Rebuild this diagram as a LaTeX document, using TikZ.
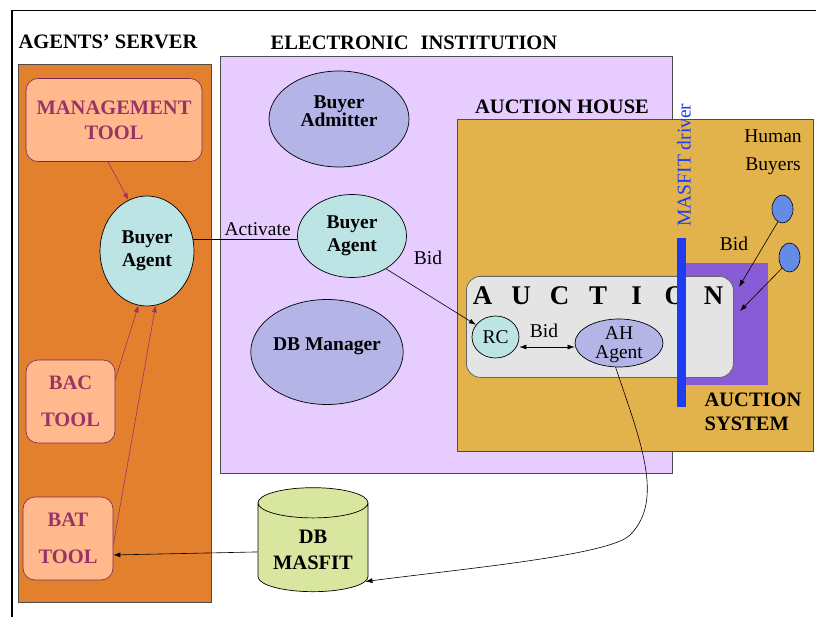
\documentclass[tikz,border=0pt]{standalone}
\usepackage{fontspec}
\setmainfont{Liberation Serif}
\usetikzlibrary{shapes.geometric,arrows.meta}
\definecolor{serverorange}{RGB}{226,128,46}
\definecolor{toolfill}{RGB}{255,185,140}
\definecolor{tooltext}{RGB}{153,51,102}
\definecolor{institution}{RGB}{230,204,255}
\definecolor{scenepurple}{RGB}{180,180,230}
\definecolor{agentcyan}{RGB}{188,228,228}
\definecolor{housegold}{RGB}{226,178,76}
\definecolor{systempurple}{RGB}{136,92,214}
\definecolor{auctiongray}{RGB}{228,228,228}
\definecolor{driverblue}{RGB}{30,60,240}
\definecolor{humanblue}{RGB}{100,140,230}
\definecolor{dbgreen}{RGB}{216,230,160}
\begin{document}
\begin{tikzpicture}[x=1pt, y=-1pt,
    area/.style={draw=black!70, line width=1.2pt, anchor=north west, inner sep=0pt},
    tool/.style={draw=tooltext!80!black, fill=toolfill, rounded corners=12pt, line width=0.6pt, text=tooltext, align=center, font=\bfseries\fontsize{20.5}{25}\selectfont},
    agent/.style={ellipse, draw, fill=agentcyan, line width=0.7pt, inner sep=0pt, align=center, font=\bfseries\fontsize{19.5}{23}\selectfont},
    scene/.style={ellipse, draw, fill=scenepurple, line width=0.7pt, inner sep=0pt, align=center, font=\bfseries\fontsize{19.5}{18}\selectfont},
    title/.style={font=\bfseries\fontsize{20.5}{24}\selectfont, inner sep=0pt},
    plain/.style={font=\fontsize{19.5}{22}\selectfont, inner sep=0pt, align=center},
    link/.style={-{Latex[length=7pt,width=5pt]}, line width=0.6pt},
    toollink/.style={link, draw=tooltext}]
\useasboundingbox (0,0) rectangle (816,617);
\draw[line width=1.6pt] (12,617) -- (12,10.5) -- (816,10.5); %% frame

%% agents' server
\node[title] (serverlabel) at (108,42) {AGENTS' SERVER};
\node[area, fill=serverorange, minimum width=193pt, minimum height=538pt] (server) at (18,64) {};
\node[tool, minimum width=176pt, minimum height=83pt] (mgmt) at (114,120) {MANAGEMENT\\TOOL};
\node[agent, minimum width=94pt, minimum height=110pt] (buyerL) at (147,251) {Buyer\\Agent};
\node[tool, minimum width=89pt, minimum height=83pt] (bac) at (70.5,401.5) {BAC\\[12pt]TOOL};
\node[tool, minimum width=90pt, minimum height=83pt] (bat) at (68,538.5) {BAT\\[12pt]TOOL};
\draw[toollink] ([xshift=-6pt]mgmt.south) -- (buyerL.110);
\draw[toollink] (bac.26) -- (buyerL.261);
\draw[toollink] (bat.-8) -- (buyerL.279);

%% electronic institution
\node[title] (eilabel) at (414,43) {ELECTRONIC\hspace{12pt}INSTITUTION};
\node[area, fill=institution, minimum width=452pt, minimum height=417pt] (ei) at (220,56) {};
\node[scene, minimum width=140pt, minimum height=96pt, text depth=16pt] (admitter) at (339,119) {Buyer\\Admitter};
\node[agent, minimum width=109pt, minimum height=83pt] (buyerM) at (352,236) {Buyer\\Agent};
\node[scene, minimum width=143pt, minimum height=105pt, text depth=16pt] (dbman) at (327,352) {DB Manager};
\draw[line width=0.6pt] (buyerL.14) -- node[plain, pos=0.62, above=3pt] (activate) {Activate} (buyerL.14 -| buyerM.west);

%% auction house
\node[title] (ahlabel) at (562,107) {AUCTION HOUSE};
\node[area, fill=housegold, minimum width=356pt, minimum height=332pt] (house) at (457,119) {};
\node[area, draw=none, fill=systempurple, minimum width=84pt, minimum height=122pt] (system) at (683,262) {};
\node[area, draw=black!60, line width=0.8pt, fill=auctiongray, rounded corners=14pt, minimum width=267pt, minimum height=101pt] (auction) at (466,276) {};
\foreach \ch [count=\i] in {A,U,C,T,I,O,N}
    \node[font=\bfseries\fontsize{27}{27}\selectfont, inner sep=0pt] (letter\i) at (444+\i*38.5,296) {\ch};
\node[area, draw=none, fill=driverblue, minimum width=9pt, minimum height=169pt] (driver) at (676,237) {};
\node[plain, text=driverblue, rotate=90] (driverlabel) at (684,165) {MASFIT driver};
\node[agent, font=\fontsize{19.5}{20}\selectfont, minimum width=47pt, minimum height=42pt] (RC) at (495.5,337) {RC};
\node[scene, font=\fontsize{19.5}{19}\selectfont, minimum width=88pt, minimum height=48pt, text depth=0pt] (AH) at (619,343) {AH\\Agent};
\draw[link, {Latex[length=7pt,width=5pt]}-{Latex[length=7pt,width=5pt]}] ([yshift=-10pt]RC.east) -- ([yshift=-4pt]AH.west);
\node[plain] (bidA) at (544,331) {Bid};
\draw[link] (buyerM.-44) -- (RC.148);
\node[plain] (bidM) at (428,258) {Bid};

%% human buyers
\node[plain, font=\fontsize{19.5}{28}\selectfont] (humans) at (773,152) {Human\\Buyers};
\node[ellipse, draw, fill=humanblue, line width=0.6pt, minimum width=21pt, minimum height=28pt] (h1) at (782.5,209) {};
\node[ellipse, draw, fill=humanblue, line width=0.6pt, minimum width=21pt, minimum height=29pt] (h2) at (789.5,257.5) {};
\coordinate (sysin1) at (739,287);
\coordinate (sysin2) at (740,311);
\draw[link] (h1.250) -- (sysin1);
\draw[link] (h2.235) -- (sysin2);
\node[plain] (bidH) at (734,244) {Bid};
\node[title, align=left] (syslabel) at (753,412) {AUCTION\\SYSTEM};

%% database
\node[cylinder, shape border rotate=90, aspect=0.35, draw, fill=dbgreen, line width=0.7pt, minimum width=110pt, minimum height=104pt, align=center, font=\bfseries\fontsize{20.5}{26}\selectfont] (db) at (313,550) {DB\\MASFIT};
\draw[link] (db.182) -- (bat.-20);
\draw[link] (AH.-98) .. controls (640,440) and (665,500) .. (630,535) .. controls (610,555) and (470,568) .. (db.-31);
\end{tikzpicture}
\end{document}
